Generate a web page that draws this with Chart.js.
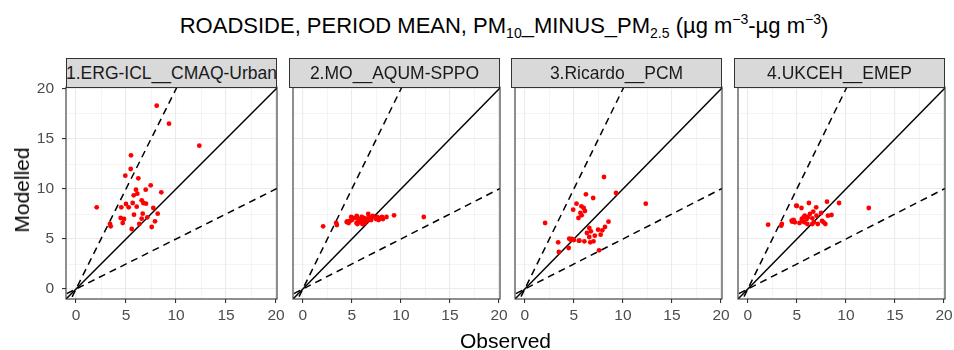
<!DOCTYPE html>
<html>
<head>
<meta charset="utf-8">
<script src="https://cdn.jsdelivr.net/npm/chart.js@4"></script>
<style>
  html, body { margin:0; padding:0; background:#fff; }
  body { width:954px; height:350px; position:relative; overflow:hidden; font-family:"Liberation Sans", Arial, sans-serif; }
  .abs { position:absolute; }
  #title { left:0px; width:954px; top:13px; text-align:center; color:#000; white-space:nowrap; line-height:26px; }
  #title span.t { display:inline-block; font-size:22px; position:relative; left:27px; }
  #title sub { font-size:14px; vertical-align:-5px; line-height:0; }
  #title sup { font-size:14px; vertical-align:9px; line-height:0; }
  .strip { background:#D9D9D9; border:1px solid #333; box-sizing:border-box; text-align:center; color:#1A1A1A; font-size:17.5px; overflow:hidden; white-space:nowrap; display:flex; align-items:center; justify-content:center; }
  .strip span { flex:none; }
  #xt { left:66px; width:879px; top:328px; text-align:center; font-size:21px; color:#000; line-height:26px; }
  #yt { left:22px; top:190px; font-size:21px; color:#000; transform:translate(-50%,-50%) rotate(-90deg); white-space:nowrap; }
  canvas { position:absolute; }
</style>
</head>
<body>
<div id="title" class="abs"><span class="t">ROADSIDE, PERIOD MEAN, PM<sub>10</sub>_MINUS_PM<sub>2.5</sub> (µg m<sup>−3</sup>-µg m<sup>−3</sup>)</span></div>
<div id="xt" class="abs">Observed</div>
<div id="yt" class="abs">Modelled</div>
<script>
// ---- data ----
const panelNames = ["1.ERG-ICL__CMAQ-Urban", "2.MO__AQUM-SPPO", "3.Ricardo__PCM", "4.UKCEH__EMEP"];
const observed = [2.07,3.4,3.47,4.47,4.53,4.67,4.8,4.93,5.0,5.27,5.47,5.5,5.57,5.67,5.77,5.8,6.0,6.07,6.13,6.23,6.33,6.57,6.57,6.67,6.73,6.97,7.0,7.13,7.47,7.57,7.73,7.9,8.07,8.17,8.53,9.3,12.33];
const modelledCMAQ = [8.17,6.5,6.27,7.1,8.17,6.6,7.0,11.33,8.5,8.17,12.0,13.37,6.0,8.6,9.37,7.43,9.93,8.23,9.53,11.07,6.5,8.87,7.03,7.53,8.6,9.93,8.53,7.17,10.37,6.2,8.1,6.77,18.33,7.53,9.67,16.53,14.33];
const modelledAQUM = [6.27,6.6,6.4,6.7,6.75,6.6,6.8,7.2,6.9,7.1,6.6,7.3,6.5,6.9,7.0,6.7,7.2,6.5,6.9,7.1,6.6,7.0,6.8,7.5,7.2,6.9,7.1,7.3,7.0,7.2,6.9,7.1,7.2,7.0,7.2,7.37,7.2];
const modelledPCM = [6.6,4.67,3.7,4.1,5.03,4.93,5.0,7.93,4.9,8.53,7.1,4.83,4.83,7.6,8.27,7.37,8.1,4.77,7.8,9.47,5.6,6.1,5.2,4.67,5.77,9.1,4.77,5.33,5.93,3.87,5.43,5.87,11.2,6.2,6.73,9.6,8.53];
const modelledEMEP = [6.43,6.33,6.5,6.83,6.73,6.9,6.67,8.33,8.3,6.6,8.1,7.0,6.8,7.17,6.67,7.33,7.0,6.5,7.2,8.6,7.5,7.07,6.5,7.73,6.67,8.17,7.33,6.5,7.6,6.8,6.67,6.5,8.73,7.33,7.4,8.6,8.1];
const modelledSeries = [modelledCMAQ, modelledAQUM, modelledPCM, modelledEMEP];
const tickValues = [0, 5, 10, 15, 20];
const gridValues = [0, 2.5, 5, 7.5, 10, 12.5, 15, 17.5, 20];
const refSlopes = [1, 2, 0.5];
const refDashed = [false, true, true];

// ---- layout ----
const axisMin = -1.0, xMax = 20.1, yMax = 20.2;
const panelLeft = [66, 289, 511, 734];
const panelW = 211, panelTop = 87, panelBottom = 299;
const stripTop = 58;
const yAxisW = 66, xAxisH = 30, pad = 12;

function makeScale(isX, showLabels) {
  return {
    type: 'linear', min: axisMin, max: isX ? xMax : yMax,
    afterBuildTicks: s => { s.ticks = gridValues.map(v => ({ value: v })); },
    afterFit: s => {
      if (isX) s.height = xAxisH; else s.width = showLabels ? yAxisW : 0;
      s.paddingLeft = 0; s.paddingRight = 0; s.paddingTop = 0; s.paddingBottom = 0;
    },
    grid: {
      color: '#EBEBEB',
      lineWidth: c => (tickValues.includes(c.tick && c.tick.value) ? 1.1 : 0.55),
      tickColor: c => (tickValues.includes(c.tick && c.tick.value) ? '#333333' : 'rgba(0,0,0,0)'),
      tickWidth: 1.1,
      tickLength: 4,
      drawTicks: showLabels,
    },
    border: { display: false },
    ticks: {
      display: showLabels,
      autoSkip: false, maxRotation: 0,
      color: '#4D4D4D',
      font: { family: '"Liberation Sans", Arial, sans-serif', size: 15.5 },
      padding: isX ? 3 : 8,
      callback: v => (tickValues.includes(v) ? String(v) : ''),
    },
  };
}

const borderPlugin = {
  id: 'panelBorder',
  afterDraw(chart) {
    const a = chart.chartArea, ctx = chart.ctx;
    ctx.save();
    ctx.strokeStyle = '#333333';
    ctx.lineWidth = 1.1;
    ctx.strokeRect(a.left, a.top, a.right - a.left, a.bottom - a.top);
    ctx.restore();
  }
};

panelNames.forEach((name, i) => {
  const strip = document.createElement('div');
  strip.className = 'strip abs';
  strip.style.left = panelLeft[i] + 'px';
  strip.style.top = stripTop + 'px';
  strip.style.width = panelW + 'px';
  strip.style.height = (panelTop - stripTop + 1) + 'px';
  strip.innerHTML = '<span></span>';
  strip.firstChild.textContent = name;
  document.body.appendChild(strip);

  const showY = i === 0;
  const leftW = showY ? yAxisW : 0;
  const cv = document.createElement('canvas');
  const cw = leftW + panelW + pad, ch = pad + (panelBottom - panelTop) + xAxisH;
  cv.width = cw; cv.height = ch;
  cv.style.width = cw + 'px'; cv.style.height = ch + 'px';
  cv.style.left = (panelLeft[i] - leftW) + 'px';
  cv.style.top = (panelTop - pad) + 'px';
  document.body.insertBefore(cv, document.body.firstChild);

  const pts = observed.map((o, k) => ({ x: o, y: modelledSeries[i][k] }));
  const refSets = refSlopes.map((s, k) => ({
    type: 'line',
    data: [{ x: axisMin - 1, y: (axisMin - 1) * s }, { x: xMax + 1, y: (xMax + 1) * s }],
    borderColor: '#000', borderWidth: 1.5, borderDash: refDashed[k] ? [7, 5] : [],
    pointRadius: 0, fill: false, order: 1, clip: 0,
  }));
  new Chart(cv, {
    type: 'scatter',
    data: {
      datasets: [
        { data: pts, backgroundColor: '#FF0000', borderWidth: 0, pointRadius: 2.4, order: 0 },
        ...refSets,
      ]
    },
    options: {
      responsive: false, animation: false, devicePixelRatio: 1,
      layout: { padding: { top: pad, right: pad, left: 0, bottom: 0 } },
      plugins: { legend: { display: false }, tooltip: { enabled: false }, title: { display: false } },
      scales: { x: makeScale(true, true), y: makeScale(false, showY) },
    },
    plugins: [borderPlugin],
  });
});
</script>
</body>
</html>
